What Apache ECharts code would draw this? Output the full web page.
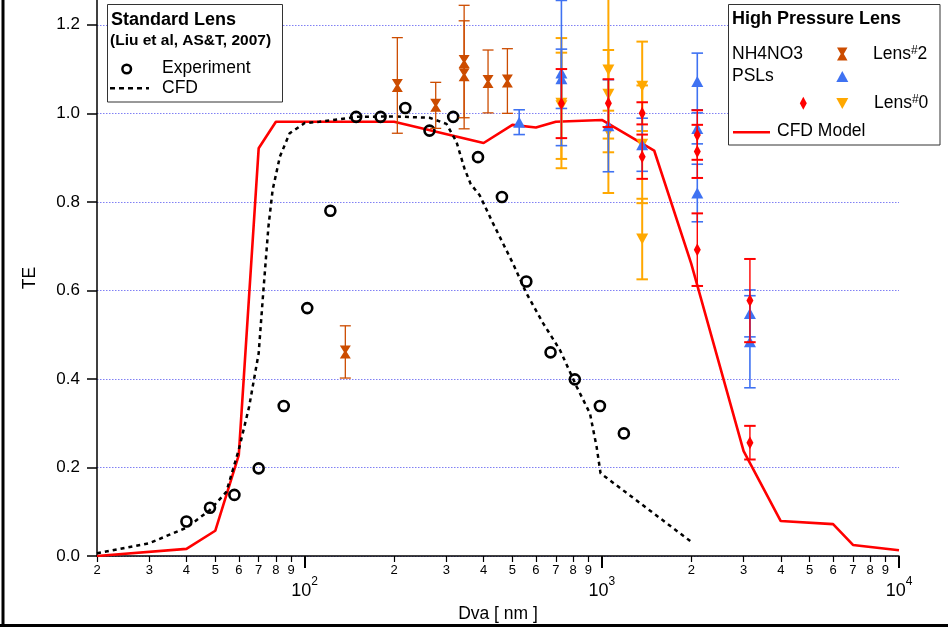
<!DOCTYPE html>
<html><head><meta charset="utf-8">
<script src="https://cdn.jsdelivr.net/npm/echarts@6/dist/echarts.min.js"></script>
<style>html,body{margin:0;padding:0;background:#fff}#c{width:948px;height:628px}</style>
</head><body><div id="c"></div>
<script>
// ---------- data ----------
const xMinorTicks = [20,30,40,50,60,70,80,90,200,300,400,500,600,700,800,900,2000,3000,4000,5000,6000,7000,8000,9000];
const xMajorTicks = [100,1000,10000];
const yTicks = [0,0.2,0.4,0.6,0.8,1.0,1.2];

// Standard lens (Liu et al) experiment
const expD  = [40,48,58,70,85,102,122,149,180,218,263,316,383,461,557,672,811,985,1186];
const expTE = [0.078,0.109,0.138,0.198,0.339,0.560,0.780,0.992,0.992,1.012,0.961,0.992,0.901,0.811,0.620,0.460,0.399,0.339,0.277];

// Standard lens CFD (dotted)
const cfdStdD  = [20,30,40,48,54.5,60,65,70,72.5,75.5,78,82.5,89,100,112,150,200,263,300,324,345,362,388,430,502,557,634,722,822,912,960,990,2000];
const cfdStdTE = [0.006,0.029,0.064,0.104,0.145,0.240,0.337,0.458,0.594,0.744,0.827,0.902,0.955,0.978,0.981,0.992,0.993,0.990,0.976,0.936,0.875,0.840,0.815,0.752,0.661,0.594,0.526,0.466,0.383,0.322,0.247,0.187,0.032];

// High pressure lens CFD model (red)
const cfdModelD  = [20,40,50,60,70,80,200,400,500,600,700,1000,1500,2000,3000,4000,6000,7000,10000];
const cfdModelTE = [0.0,0.016,0.057,0.228,0.921,0.981,0.981,0.933,0.974,0.968,0.981,0.985,0.916,0.660,0.237,0.079,0.072,0.025,0.013];

// NH4NO3, Lens#2
const nh4L2D   = [137,205,276,344,344,414,481];
const nh4L2TE  = [0.461,1.063,1.018,1.117,1.087,1.072,1.073];
const nh4L2Err = [0.059,0.108,0.052,0.127,0.122,0.071,0.073];

// PSLs, Lens#2
const pslL2D   = [527,731,731,1052,1367,2095,2095,2095,3150,3150];
const pslL2TE  = [0.980,1.091,1.078,0.972,0.929,1.072,0.966,0.820,0.548,0.484];
const pslL2Err = [0.028,0.164,0.067,0.104,0.060,0.064,0.035,0.065,0.053,0.104];

// NH4NO3, Lens#0
const nh4L0D   = [731,1052,1367,1367,2095,2095,2095,3150,3150];
const nh4L0TE  = [1.022,1.023,1.000,0.902,0.951,0.914,0.692,0.577,0.256];
const nh4L0Err = [0.078,0.054,0.025,0.050,0.056,0.060,0.082,0.094,0.038];

// PSLs, Lens#0
const pslL0D   = [731,731,1052,1052,1052,1367,1367,1367];
const pslL0TE  = [1.023,1.017,1.098,1.043,0.959,1.061,0.930,0.716];
const pslL0Err = [0.147,0.120,0.278,0.100,0.047,0.101,0.133,0.091];

// ---------- styling ----------
const FONT = '"Liberation Sans", Arial, Helvetica, sans-serif';
const C_BROWN = '#cc4c00', C_BLUE = '#3f72f2', C_RED = '#ff0000', C_ORANGE = '#ffa800';
const SYM_HOURGLASS = 'path://M0,0 L10,0 L6.3,6 L10,12 L0,12 L3.7,6 Z';
const SYM_TRIDOWN = 'path://M0,0 L10,0 L5,9 Z';

const pts = (D, T) => D.map((d, i) => [d, T[i]]);
const bars = (D, T, E) => D.map((d, i) => [d, T[i] - E[i], T[i] + E[i]]);

function errSeries(D, T, E, color, stemW, capW, capLw, z) {
  return {
    type: 'custom', z: z, silent: true, clip: true,
    data: bars(D, T, E),
    encode: { x: 0, y: [1, 2] },
    renderItem: function (params, api) {
      const x = api.value(0), lo = api.value(1), hi = api.value(2);
      const a = api.coord([x, lo]), b = api.coord([x, hi]);
      const h = capW / 2;
      return { type: 'group', children: [
        { type: 'line', shape: { x1: a[0], y1: a[1], x2: b[0], y2: b[1] }, style: { stroke: color, lineWidth: stemW } },
        { type: 'line', shape: { x1: a[0] - h, y1: a[1], x2: a[0] + h, y2: a[1] }, style: { stroke: color, lineWidth: capLw } },
        { type: 'line', shape: { x1: b[0] - h, y1: b[1], x2: b[0] + h, y2: b[1] }, style: { stroke: color, lineWidth: capLw } }
      ]};
    }
  };
}
function markSeries(D, T, symbol, size, color, z) {
  return { type: 'scatter', z: z, silent: true, data: pts(D, T), symbol: symbol, symbolSize: size,
    itemStyle: { color: color, opacity: 1 } };
}

const chart = echarts.init(document.getElementById('c'), null, { renderer: 'canvas' });

const txt = (t, x, y, size, bold, extra) => Object.assign({
  type: 'text', x: x, y: y, z: 101,
  style: { text: t, font: (bold ? 'bold ' : '') + size + 'px ' + FONT, fill: '#000', verticalAlign: 'middle', align: 'left' }
}, extra || {});
const supTxt = (t, x, y) => ({
  type: 'text', x: x, y: y, z: 101,
  style: { text: t, font: '17.5px ' + FONT, fill: '#000', verticalAlign: 'middle', align: 'left',
    rich: { s: { fontSize: 12, fontFamily: FONT, verticalAlign: 'top', fill: '#000' } } }
});

const graphics = [
  // frame
  { type: 'line', z: 100, shape: { x1: 3, y1: 0, x2: 3, y2: 626 }, style: { stroke: '#000', lineWidth: 3 } },
  { type: 'line', z: 100, shape: { x1: 0, y1: 625.5, x2: 948, y2: 625.5 }, style: { stroke: '#000', lineWidth: 3 } },
  // legend box 1
  { type: 'rect', z: 100, shape: { x: 107.5, y: 4.5, width: 175, height: 97.5 }, style: { fill: '#fff', stroke: '#333', lineWidth: 1 } },
  txt('Standard Lens', 111, 20, 18, true),
  txt('(Liu et al, AS&T, 2007)', 110, 40.5, 15.5, true),
  { type: 'circle', z: 101, shape: { cx: 126.7, cy: 69, r: 4.3 }, style: { fill: 'none', stroke: '#000', lineWidth: 2.5 } },
  txt('Experiment', 162, 68, 17.5, false),
  { type: 'line', z: 101, shape: { x1: 110, y1: 88.3, x2: 149, y2: 88.3 }, style: { stroke: '#000', lineWidth: 2.5, lineDash: [5, 4] } },
  txt('CFD', 162, 88, 17.5, false),
  // legend box 2
  { type: 'rect', z: 100, shape: { x: 728.5, y: 4.5, width: 211.5, height: 140.5 }, style: { fill: '#fff', stroke: '#333', lineWidth: 1 } },
  txt('High Pressure Lens', 732, 19, 18, true),
  txt('NH4NO3', 732, 54, 17.5, false),
  txt('PSLs', 732, 76, 17.5, false),
  { type: 'polygon', z: 101, shape: { points: [[837, 47.5], [847.5, 47.5], [843.8, 54], [847.5, 60.5], [837, 60.5], [840.7, 54]] }, style: { fill: C_BROWN } },
  { type: 'polygon', z: 101, shape: { points: [[836.3, 82], [848.3, 82], [842.3, 71]] }, style: { fill: C_BLUE } },
  { type: 'polygon', z: 101, shape: { points: [[803.3, 96.8], [806.8, 103.3], [803.3, 109.8], [799.8, 103.3]] }, style: { fill: C_RED } },
  { type: 'polygon', z: 101, shape: { points: [[836.3, 98], [848.3, 98], [842.3, 109]] }, style: { fill: C_ORANGE } },
  supTxt('Lens{s|#}2', 873, 54),
  supTxt('Lens{s|#}0', 874, 103),
  { type: 'line', z: 101, shape: { x1: 733, y1: 132.3, x2: 770, y2: 132.3 }, style: { stroke: C_RED, lineWidth: 2.6 } },
  txt('CFD Model', 777, 131, 17.5, false)
];

const option = {
  animation: false,
  backgroundColor: '#fff',
  grid: { left: 97, right: 49, top: 0, bottom: 72, containLabel: false },
  xAxis: [
    { type: 'log', logBase: 10, min: 20, max: 10000, position: 'bottom',
      axisLine: { show: true, onZero: false, lineStyle: { color: '#000', width: 1.5 } },
      axisTick: { show: true, customValues: xMinorTicks, length: 6, lineStyle: { color: '#000', width: 1.2 } },
      axisLabel: { show: true, customValues: xMinorTicks, margin: 8, fontSize: 13, color: '#000', fontFamily: FONT,
        formatter: v => String(Math.round(v / Math.pow(10, Math.floor(Math.log10(v) + 1e-9)))) },
      splitLine: { show: false }, minorTick: { show: false } },
    { type: 'log', logBase: 10, min: 20, max: 10000, position: 'bottom',
      axisLine: { show: false, onZero: false },
      axisTick: { show: true, customValues: xMajorTicks, length: 12, lineStyle: { color: '#000', width: 2 } },
      axisLabel: { show: true, customValues: xMajorTicks, margin: 20, color: '#000', fontFamily: FONT,
        formatter: v => '{b|10}{s|' + Math.round(Math.log10(v)) + '}',
        rich: { b: { fontSize: 18, fontFamily: FONT, color: '#000', verticalAlign: 'bottom', padding: [6, 0, 0, 0] },
                s: { fontSize: 12, fontFamily: FONT, color: '#000', verticalAlign: 'top' } } },
      splitLine: { show: false },
      name: 'Dva [ nm ]', nameLocation: 'middle', nameGap: 42,
      nameTextStyle: { fontSize: 17.5, fontFamily: FONT, color: '#000' } }
  ],
  yAxis: {
    type: 'value', min: 0, max: 1.256, interval: 0.2,
    axisLine: { show: true, onZero: false, lineStyle: { color: '#000', width: 1.5 } },
    axisTick: { show: true, customValues: yTicks, length: 10, lineStyle: { color: '#000', width: 1.5 } },
    axisLabel: { customValues: yTicks, formatter: v => v.toFixed(1), margin: 17, fontSize: 17, color: '#000', fontFamily: FONT },
    splitLine: { show: true, lineStyle: { color: '#6a6af2', type: [1.5, 1.5], width: 1, opacity: 0.85 } },
    name: 'TE', nameLocation: 'middle', nameGap: 58,
    nameTextStyle: { fontSize: 17.5, fontFamily: FONT, color: '#000' }
  },
  series: [
    { type: 'line', z: 2, data: pts(cfdModelD, cfdModelTE), showSymbol: false, silent: true,
      lineStyle: { color: C_RED, width: 2.6 } },
    { type: 'line', z: 3, data: pts(cfdStdD, cfdStdTE), showSymbol: false, silent: true,
      lineStyle: { color: '#000', width: 2.5, type: [4, 4] } },
    { type: 'scatter', z: 4, data: pts(expD, expTE), symbol: 'circle', symbolSize: 10, silent: true,
      itemStyle: { color: 'rgba(255,255,255,0)', borderColor: '#000', borderWidth: 2.6, opacity: 1 } },
    errSeries(nh4L2D, nh4L2TE, nh4L2Err, C_BROWN, 1.3, 11, 1.3, 5),
    markSeries(nh4L2D, nh4L2TE, SYM_HOURGLASS, [11, 13], C_BROWN, 6),
    errSeries(pslL0D, pslL0TE, pslL0Err, C_ORANGE, 2, 11.5, 2, 7),
    markSeries(pslL0D, pslL0TE, SYM_TRIDOWN, [12, 11], C_ORANGE, 8),
    errSeries(pslL2D, pslL2TE, pslL2Err, C_BLUE, 1.6, 11.5, 1.6, 9),
    markSeries(pslL2D, pslL2TE, 'triangle', [12, 11], C_BLUE, 10),
    errSeries(nh4L0D, nh4L0TE, nh4L0Err, C_RED, 1.4, 11.5, 2, 11),
    markSeries(nh4L0D, nh4L0TE, 'diamond', [7, 13], C_RED, 12)
  ],
  graphic: { elements: graphics }
};
chart.setOption(option);
</script></body></html>
